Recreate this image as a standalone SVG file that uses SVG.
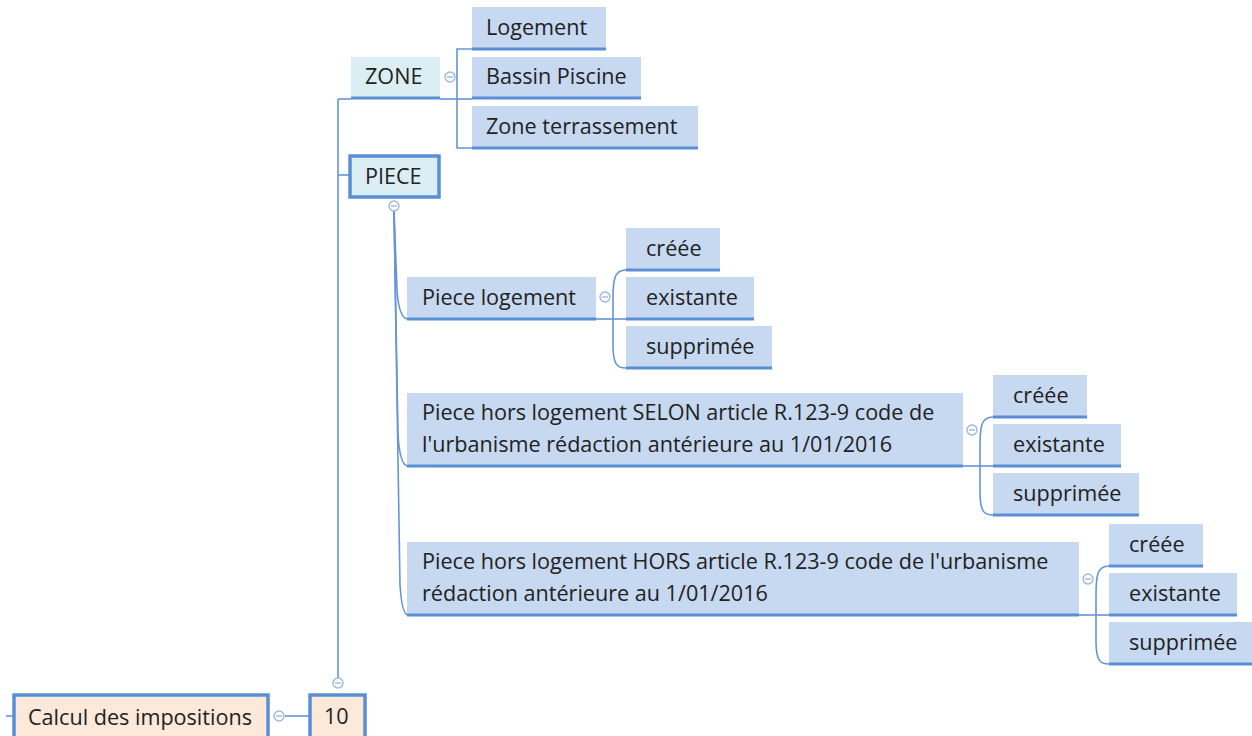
<svg xmlns="http://www.w3.org/2000/svg" width="1252" height="736" viewBox="0 0 1252 736">
<style>
.t{font-family:"Open Sans","Noto Sans","Liberation Sans",sans-serif;font-size:21.6px;fill:#222}
.sub{fill:#c6d9f1}
.ul{stroke:#5a8fd6;stroke-width:3;fill:none}
.c{stroke:#6495d8;stroke-width:1.6;fill:none}
.cyan{fill:#dbeef4}
.box{stroke:#5a8fd6;stroke-width:3.5}
.peach{fill:#fde9d9}
.col circle{fill:#fff;stroke:#9db8de;stroke-width:1.4}
.col line{stroke:#9db8de;stroke-width:1.4}
</style>
<rect width="1252" height="736" fill="#fff"/>
<g id="connectors">
  <path class="c" d="M338,99 V678"/>
  <path class="c" d="M338,99 H351"/>
  <path class="c" d="M338,175 H349"/>
  <path class="c" d="M440,99 H472"/>
  <path class="c" d="M472,49 H457 V148 H472"/>
  <path class="c" d="M394,210 L397,290 Q399,319 408,319"/>
  <path class="c" d="M394,210 L398,435 Q400,466 408,466"/>
  <path class="c" d="M394,210 L400,585 Q402,615 408,615"/>
  <path class="c" d="M596,319 H626"/>
  <path class="c" d="M626,270 C614,270 613,280 613,300 L613,345 C613,366 618,368 626,368"/>
  <path class="c" d="M963,466 H993"/>
  <path class="c" d="M993,417 C981,417 980,427 980,447 L980,492 C980,513 985,515 993,515"/>
  <path class="c" d="M1079,615 H1109"/>
  <path class="c" d="M1109,566 C1097,566 1096,576 1096,596 L1096,641 C1096,662 1101,664 1109,664"/>
  <path class="c" d="M285,716 H309"/>
  <path class="c" d="M6,716 H13"/>
</g>
<g id="n-logement"><rect class="sub" x="472" y="7" width="134" height="43"/><path class="ul" d="M472,49 H606"/><text class="t" x="486" y="35">Logement</text></g>
<g id="n-bassin"><rect class="sub" x="472" y="57" width="169" height="42"/><path class="ul" d="M472,98 H641"/><text class="t" x="486" y="84">Bassin Piscine</text></g>
<g id="n-terrassement"><rect class="sub" x="472" y="106" width="226" height="43"/><path class="ul" d="M472,148 H698"/><text class="t" x="486" y="134">Zone terrassement</text></g>
<g id="n-zone"><rect class="cyan" x="351" y="57" width="89" height="42"/><path class="ul" d="M351,98 H440"/><text class="t" x="365" y="84">ZONE</text></g>
<g id="n-piece"><rect class="cyan box" x="350" y="156" width="89" height="41"/><text class="t" x="365" y="184">PIECE</text></g>
<g id="n-piece-logement"><rect class="sub" x="407" y="277" width="189" height="43"/><path class="ul" d="M407,319 H596"/><text class="t" x="422" y="305">Piece logement</text></g>
<g id="n-pl-creee"><rect class="sub" x="626" y="228" width="94" height="43"/><path class="ul" d="M626,270 H720"/><text class="t" x="646" y="256">créée</text></g>
<g id="n-pl-existante"><rect class="sub" x="626" y="277" width="128" height="43"/><path class="ul" d="M626,319 H754"/><text class="t" x="646" y="305">existante</text></g>
<g id="n-pl-supprimee"><rect class="sub" x="626" y="326" width="146" height="43"/><path class="ul" d="M626,368 H772"/><text class="t" x="646" y="354">supprimée</text></g>
<g id="n-selon"><rect class="sub" x="407" y="393" width="556" height="74"/><path class="ul" d="M407,466 H963"/><text class="t" x="422" y="420">Piece hors logement SELON article R.123-9 code de</text><text class="t" x="422" y="452">l'urbanisme rédaction antérieure au 1/01/2016</text></g>
<g id="n-s-creee"><rect class="sub" x="993" y="375" width="94" height="43"/><path class="ul" d="M993,417 H1087"/><text class="t" x="1013" y="403">créée</text></g>
<g id="n-s-existante"><rect class="sub" x="993" y="424" width="128" height="43"/><path class="ul" d="M993,466 H1121"/><text class="t" x="1013" y="452">existante</text></g>
<g id="n-s-supprimee"><rect class="sub" x="993" y="473" width="146" height="43"/><path class="ul" d="M993,515 H1139"/><text class="t" x="1013" y="501">supprimée</text></g>
<g id="n-hors"><rect class="sub" x="407" y="542" width="672" height="74"/><path class="ul" d="M407,615 H1079"/><text class="t" x="422" y="569">Piece hors logement HORS article R.123-9 code de l'urbanisme</text><text class="t" x="422" y="601">rédaction antérieure au 1/01/2016</text></g>
<g id="n-h-creee"><rect class="sub" x="1109" y="524" width="94" height="43"/><path class="ul" d="M1109,566 H1203"/><text class="t" x="1129" y="552">créée</text></g>
<g id="n-h-existante"><rect class="sub" x="1109" y="573" width="128" height="43"/><path class="ul" d="M1109,615 H1237"/><text class="t" x="1129" y="601">existante</text></g>
<g id="n-h-supprimee"><rect class="sub" x="1109" y="622" width="143" height="43"/><path class="ul" d="M1109,664 H1252"/><text class="t" x="1129" y="650">supprimée</text></g>
<g id="n-10"><rect class="peach box" x="310" y="695" width="55" height="45"/><text class="t" x="324" y="724">10</text></g>
<g id="n-calcul"><rect class="peach box" x="14" y="695" width="254" height="45"/><text class="t" x="28" y="725">Calcul des impositions</text></g>
<g id="collapse" class="col">
  <circle cx="450" cy="77" r="5"/><line x1="447" y1="77" x2="453" y2="77"/>
  <circle cx="394" cy="206" r="5"/><line x1="391" y1="206" x2="397" y2="206"/>
  <circle cx="605" cy="297" r="5"/><line x1="602" y1="297" x2="608" y2="297"/>
  <circle cx="972" cy="430" r="5"/><line x1="969" y1="430" x2="975" y2="430"/>
  <circle cx="1088" cy="579" r="5"/><line x1="1085" y1="579" x2="1091" y2="579"/>
  <circle cx="338" cy="683" r="5"/><line x1="335" y1="683" x2="341" y2="683"/>
  <circle cx="279" cy="716" r="5"/><line x1="276" y1="716" x2="282" y2="716"/>
</g>
</svg>
